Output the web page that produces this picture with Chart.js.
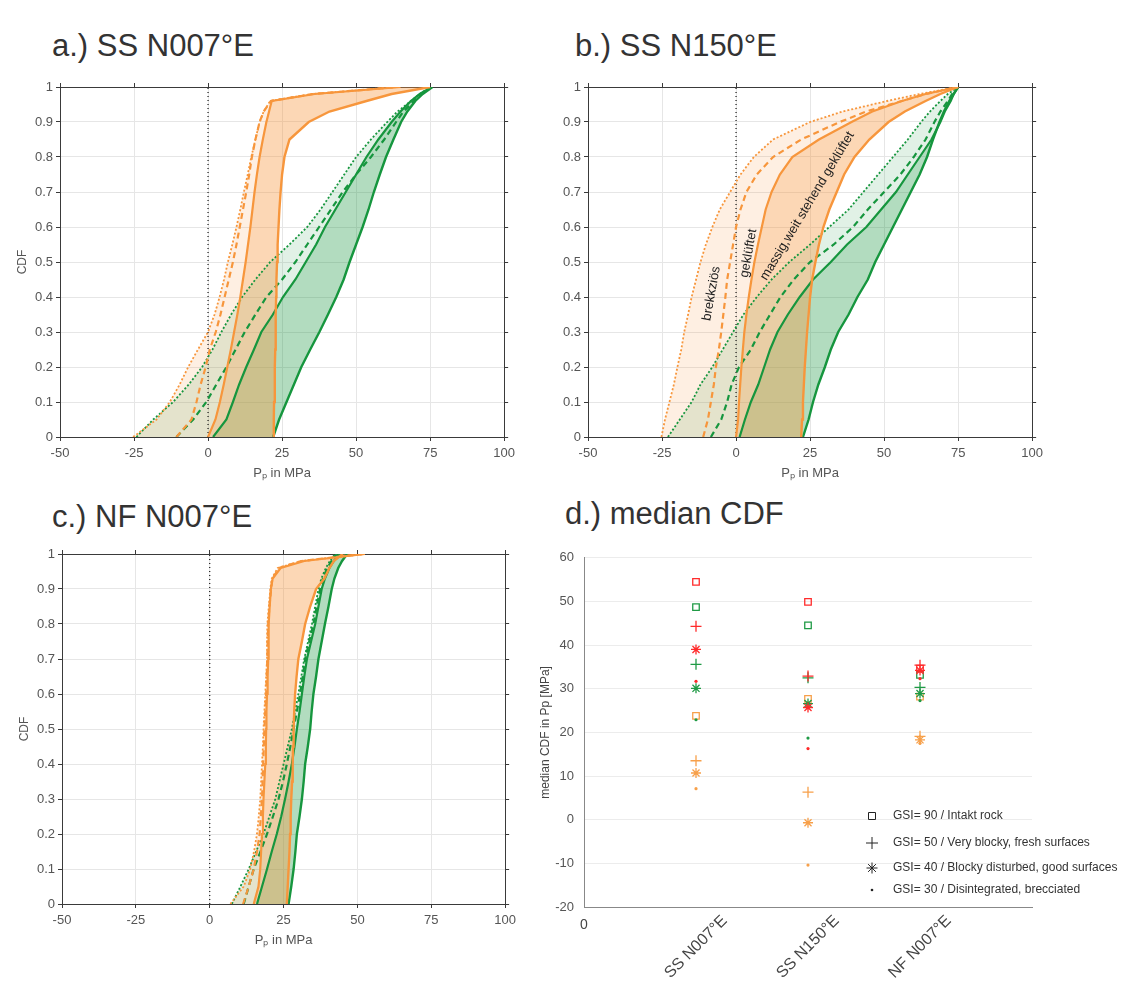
<!DOCTYPE html>
<html lang="en">
<head>
<meta charset="UTF-8" />
<title>CDF Pp - GSI</title>
<script src="https://cdn.jsdelivr.net/npm/chart.js"></script>
<style>
  body { margin: 0; background: #fff; width: 1130px; height: 981px; position: relative; overflow: hidden;
         font-family: "Liberation Sans", Arial, sans-serif; }
  .panel-title { position: absolute; font-size: 31px; line-height: 30px; color: #333; white-space: nowrap; }
  canvas { position: absolute; }
</style>
</head>
<body>
  <div class="panel-title" style="left:52px; top:31px">a.) SS N007°E</div>
  <div class="panel-title" style="left:575px; top:31px">b.) SS N150°E</div>
  <div class="panel-title" style="left:52px; top:502px">c.) NF N007°E</div>
  <div class="panel-title" style="left:565px; top:499px">d.) median CDF</div>

  <canvas id="chartA" width="520" height="420" style="left:0; top:70px"></canvas>
  <canvas id="chartB" width="520" height="420" style="left:528px; top:70px"></canvas>
  <canvas id="chartC" width="519" height="420" style="left:2px; top:537px"></canvas>
  <canvas id="chartD" width="605" height="441" style="left:525px; top:540px"></canvas>

<script>
// probability levels shared by all CDF curves
const cdfLevels = [0, 0.05, 0.1, 0.15, 0.2, 0.25, 0.3, 0.35, 0.4, 0.45, 0.5, 0.55, 0.6, 0.65, 0.7, 0.75, 0.8, 0.85, 0.9, 0.93, 0.96, 0.98, 1];

// a.) SS N007°E  (Pp in MPa at each level)
const a_or30 = [-25.3, -17.4, -12.9, -9.6, -6.7, -3.4, 0, 2.2, 3.9, 5.4, 6.7, 8.2, 9.6, 10.9, 12.1, 13.4, 14.6, 16.0, 17.4, 18.8, 21.0, 35, 64];
const a_or40 = [-10.7, -5.6, -3.9, -2.5, -0.8, 0.6, 2.6, 4.2, 5.6, 7.0, 8.4, 9.6, 10.7, 11.8, 12.9, 13.9, 14.8, 16.0, 17.4, 18.8, 21.2, 35.5, 64];
const a_or50 = [0, 2.5, 4.0, 5.3, 6.5, 7.7, 8.8, 9.9, 10.9, 11.8, 12.7, 13.5, 14.3, 15.0, 15.7, 16.5, 17.4, 18.5, 19.7, 20.6, 21.5, 36, 65];
const a_or90 = [22, 22.2, 22.3, 22.5, 22.6, 22.7, 22.8, 22.9, 23.0, 23.1, 23.3, 23.5, 23.8, 24.1, 24.5, 25.0, 25.8, 27.5, 34, 41, 53.5, 62, 75];
const a_gr30 = [-24.2, -18.5, -11.8, -6.5, -2, 1.5, 4.5, 7.8, 11.5, 16, 21, 27.5, 33.5, 38, 42, 46, 50, 55, 60.5, 64, 68.5, 71.5, 75];
const a_gr40 = [-10.7, -5, -0.6, 2.8, 6.2, 9.3, 12.4, 16, 19.7, 25, 29.5, 33.5, 37.5, 41.5, 45.5, 50, 55, 59.5, 63.5, 66, 69.5, 72, 75];
const a_gr50 = [1.7, 6.2, 8.4, 10.5, 12.9, 15.5, 18, 21.9, 25.3, 29.5, 33, 36.5, 39.5, 43, 46.5, 50, 53.5, 57.5, 62, 65, 68.5, 71.5, 75.5];
const a_gr90 = [22, 24, 26.5, 29, 31.5, 34.5, 37.6, 40.5, 43.3, 45.8, 47.8, 50, 52.2, 54.2, 56, 58, 60.1, 62.6, 65.2, 67.3, 70, 72.5, 75.8];

// b.) SS N150°E
const b_or30 = [-25.2, -24, -22.5, -21, -19.8, -18.5, -17.5, -16.2, -15, -13.5, -12, -10.2, -8, -5.5, -2, 1.5, 6, 12.5, 25, 36, 51, 62, 75];
const b_or40 = [-11.1, -9.5, -8.5, -7.5, -6.8, -5.8, -5, -4.3, -3.6, -3, -2, -1, 0, 1.5, 3.5, 7, 12.5, 22, 35, 44, 56, 64, 75];
const b_or50 = [0, 0.7, 1, 1.4, 1.8, 2.3, 2.8, 3.5, 4.3, 5.2, 6.2, 7.4, 8.7, 10, 12, 14.8, 19, 28, 39, 46, 56, 64, 75];
const b_or90 = [22, 22.3, 22.6, 22.9, 23.2, 23.6, 24, 24.5, 25, 25.7, 26.8, 28, 29.5, 31.5, 34, 36.5, 40, 45, 51.5, 57, 64, 69, 75];
const b_gr30 = [-23, -19, -15, -12, -8, -4.5, -1, 2.5, 7, 12, 18, 25, 31.5, 38, 43, 48, 53, 58, 62.5, 65.5, 69, 71.5, 75];
const b_gr40 = [-8.5, -5, -3, -1.5, 1, 5, 8, 11.5, 15, 19.5, 25, 33, 39.5, 44.5, 50, 55.5, 60, 64, 67, 69, 71.5, 73, 75];
const b_gr50 = [1.2, 3, 5, 7.5, 9.5, 11.5, 14, 17.5, 21.5, 26, 32, 37.5, 44, 49, 54, 58, 62, 66, 69, 70.5, 72.5, 73.5, 75];
const b_gr90 = [22.6, 24.5, 26, 27.8, 30, 32, 34.5, 38, 41, 44.5, 47, 50, 53, 56, 59, 62, 64.5, 66.5, 68.7, 70.2, 72, 73.5, 75];

// c.) NF N007°E
const c_or30 = [7, 11.5, 13.7, 15, 16, 16.6, 17.1, 17.4, 17.7, 18, 18.2, 18.5, 18.8, 19.1, 19.4, 19.4, 19.5, 20, 20.5, 21, 23, 31, 52.5];
const c_or40 = [11.3, 13.2, 14.9, 16, 16.9, 17.3, 17.7, 17.9, 18.1, 18.3, 18.5, 18.8, 19.1, 19.3, 19.5, 19.6, 19.8, 20.2, 20.8, 21.2, 23.5, 31, 52];
const c_or50 = [14.9, 16.5, 17.1, 17.4, 17.7, 18, 18.2, 18.5, 18.8, 19, 19.1, 19.2, 19.4, 19.6, 19.8, 19.9, 20, 20.3, 20.7, 21.3, 24, 32, 52.5];
const c_or90 = [26.1, 26.4, 26.7, 27, 27.2, 27.4, 27.6, 27.9, 28.1, 28.2, 28.4, 28.6, 28.9, 29.4, 30, 31.2, 32.3, 34, 36, 38.8, 40.5, 42, 45];
const c_gr30 = [7.5, 10.4, 13.2, 15.7, 18.2, 20.2, 22.2, 23.6, 25, 26.4, 27.8, 28.9, 30, 31, 32, 33.3, 34.6, 35.7, 36.8, 37.8, 39.3, 40.7, 42.4];
const c_gr40 = [11.5, 13.2, 14.9, 17.2, 19.4, 21.4, 23.3, 24.8, 26.1, 27.3, 28.4, 29.5, 30.6, 31.5, 32.3, 33.7, 35.1, 36.2, 37.4, 38.3, 39.8, 41.2, 43];
const c_gr50 = [16, 17.7, 19.4, 21, 22.7, 24.2, 25.5, 26.7, 27.8, 28.7, 29.5, 30.4, 31.2, 32, 32.9, 34.3, 35.7, 36.8, 37.9, 39, 40.5, 42, 44];
const c_gr90 = [26.7, 27.6, 28.4, 29, 29.5, 30.4, 31.2, 31.8, 32.3, 33.2, 34, 34.5, 35.1, 36, 36.8, 37.9, 39, 40.2, 41.3, 42.2, 43.5, 44.8, 46.5];

// zero reference line
const zeroLineX = [0, 0];
const zeroLineY = [0, 1];

// band labels in b.)
const bandLabels = ['brekkziös', 'geklüftet', 'massig,weit stehend geklüftet'];

// d.) median CDF in Pp [MPa] per site
const sites = ['SS N007°E', 'SS N150°E', 'NF N007°E'];
const red90 = [54.5, 49.9, 34.6];
const red50 = [44.3, 32.9, 35.4];
const red40 = [39.0, 25.7, 34.2];
const red30 = [31.7, 16.3, 32.3];
const green90 = [48.7, 44.5, 33.2];
const green50 = [35.6, 32.5, 30.3];
const green40 = [30.1, 26.6, 28.9];
const green30 = [22.9, 18.7, 27.3];
const orange90 = [23.8, 27.7, 28.2];
const orange50 = [13.5, 6.3, 19.1];
const orange40 = [10.7, -0.7, 18.3];
const orange30 = [7.1, -10.4, 17.5];
const legendLabels = ['GSI= 90 / Intakt rock', 'GSI= 50 / Very blocky, fresh surfaces',
  'GSI= 40 / Blocky disturbed, good surfaces', 'GSI= 30 / Disintegrated, brecciated'];

const FONT = '"Liberation Sans", Arial, sans-serif';
const ORANGE = 'rgb(247,150,60)';
const GREEN = 'rgb(22,150,62)';
const gridColor = '#e6e6e6';
const axisColor = '#3a3a3a';
const tickColor = '#555';

function toPoints(xs) {
  return xs.map((x, i) => ({ x: x, y: cdfLevels[i] }));
}

function curveSet(list, color, light, medium, base) {
  // list = [gsi30, gsi40, gsi50, gsi90]
  const dash = [[2, 2], [6, 4], [], []];
  const width = [1.8, 2.2, 2.2, 2.4];
  return list.map((xs, i) => ({
    data: toPoints(xs),
    borderColor: color,
    borderWidth: width[i],
    borderDash: dash[i],
    backgroundColor: i === 0 ? light : medium,
    fill: i === 0 ? { target: base + 2 } : (i === 2 ? { target: base + 3 } : false),
    pointRadius: 0
  }));
}

// rotated band names for panel b, anchored in data coordinates
const bandNotes = {
  id: 'bandNotes',
  afterDatasetsDraw(chart) {
    if (chart.canvas.id !== 'chartB') return;
    const { ctx, scales } = chart;
    const anchors = [[-8.3, 0.41, -80], [4.2, 0.525, -80], [24.1, 0.66, -59]];
    ctx.save();
    ctx.fillStyle = '#222';
    ctx.font = '13px ' + FONT;
    ctx.textAlign = 'center';
    ctx.textBaseline = 'middle';
    bandLabels.forEach((t, i) => {
      const [vx, vy, ang] = anchors[i];
      ctx.save();
      ctx.translate(scales.x.getPixelForValue(vx), scales.y.getPixelForValue(vy));
      ctx.rotate(ang * Math.PI / 180);
      ctx.fillText(t, 0, 0);
      ctx.restore();
    });
    ctx.restore();
  }
};

function cdfChart(id, orangeList, greenList, showTitle) {
  const datasets = [
    ...curveSet(orangeList, ORANGE, 'rgba(247,150,60,0.15)', 'rgba(247,150,60,0.38)', 0),
    ...curveSet(greenList, GREEN, 'rgba(22,150,62,0.13)', 'rgba(22,150,62,0.33)', 4),
    {
      data: zeroLineX.map((x, i) => ({ x: x, y: zeroLineY[i] })),
      borderColor: '#111', borderWidth: 1.2, borderDash: [1, 3], fill: false, pointRadius: 0
    }
  ];
  const sideAxis = (pos, fitSize) => ({
    type: 'linear', position: pos,
    min: pos === 'top' ? -50 : 0, max: pos === 'top' ? 100 : 1,
    ticks: { display: false, stepSize: pos === 'top' ? 25 : 0.1 },
    grid: { drawOnChartArea: false, tickLength: 4, color: axisColor },
    border: { color: axisColor },
    afterFit: s => { if (pos === 'top') s.height = fitSize; else s.width = fitSize; }
  });
  return new Chart(document.getElementById(id), {
    type: 'line',
    data: { datasets },
    options: {
      indexAxis: 'y',
      responsive: false,
      animation: false,
      layout: { padding: 0 },
      elements: { line: { tension: 0 } },
      plugins: {
        legend: { display: false },
        tooltip: { enabled: false },
        filler: { drawTime: 'beforeDatasetsDraw' }
      },
      scales: {
        x: {
          type: 'linear', position: 'bottom', min: -50, max: 100,
          ticks: { stepSize: 25, color: tickColor, padding: 5, font: { family: FONT, size: 13 } },
          grid: { color: gridColor, tickLength: 4, tickColor: axisColor },
          border: { color: axisColor },
          title: { display: true, text: 'Pₚ in MPa', color: tickColor, font: { family: FONT, size: 13 }, padding: { top: 0, bottom: 9 } },
          afterFit: s => { s.height = 53; }
        },
        y: {
          type: 'linear', position: 'left', min: 0, max: 1,
          ticks: {
            stepSize: 0.1, color: tickColor, padding: 3, font: { family: FONT, size: 13 },
            callback: v => String(Number(v.toFixed(1)))
          },
          grid: { color: gridColor, tickLength: 4, tickColor: axisColor },
          border: { color: axisColor },
          title: { display: showTitle, text: 'CDF', color: tickColor, font: { family: FONT, size: 12 }, padding: { top: 15, bottom: 0 } },
          afterFit: s => { s.width = 60; }
        },
        x2: sideAxis('top', 17),
        y2: sideAxis('right', 15)
      }
    },
    plugins: [bandNotes]
  });
}

cdfChart('chartA', [a_or30, a_or40, a_or50, a_or90], [a_gr30, a_gr40, a_gr50, a_gr90], true);
cdfChart('chartB', [b_or30, b_or40, b_or50, b_or90], [b_gr30, b_gr40, b_gr50, b_gr90], false);
cdfChart('chartC', [c_or30, c_or40, c_or50, c_or90], [c_gr30, c_gr40, c_gr50, c_gr90], true);

// ---- panel d ----
const RED_D = '#ff2b2b';
const GREEN_D = '#1f9a45';
const ORANGE_D = '#f7a04a';
const markers = [
  { style: 'rect', radius: 4.6, filled: false },
  { style: 'cross', radius: 5.5, filled: false },
  { style: 'star', radius: 5, filled: false },
  { style: 'circle', radius: 1.6, filled: true }
];

function medianSets(color, list) {
  return list.map((vals, i) => ({
    data: vals.map((v, k) => ({ x: k + 1, y: v })),
    pointStyle: markers[i].style,
    pointRadius: markers[i].radius,
    borderColor: color,
    backgroundColor: markers[i].filled ? color : 'transparent',
    pointBorderWidth: markers[i].filled ? 0 : 1.3,
    showLine: false
  }));
}

function drawMarker(ctx, kind, x, y) {
  ctx.beginPath();
  if (kind === 0) {
    ctx.rect(x - 3.5, y - 3.5, 7, 7);
    ctx.stroke();
  } else if (kind === 1 || kind === 2) {
    const r = kind === 1 ? 6 : 5.5;
    ctx.moveTo(x - r, y); ctx.lineTo(x + r, y);
    ctx.moveTo(x, y - r); ctx.lineTo(x, y + r);
    if (kind === 2) {
      const d = r * 0.707;
      ctx.moveTo(x - d, y - d); ctx.lineTo(x + d, y + d);
      ctx.moveTo(x - d, y + d); ctx.lineTo(x + d, y - d);
    }
    ctx.stroke();
  } else {
    ctx.arc(x, y, 1.3, 0, Math.PI * 2);
    ctx.fill();
  }
}

const medianDecor = {
  id: 'medianDecor',
  afterDraw(chart) {
    const { ctx, chartArea, scales } = chart;
    const xs = scales.x;
    ctx.save();
    ctx.fillStyle = '#444';
    ctx.textAlign = 'center';
    ctx.textBaseline = 'middle';
    ctx.font = '14px ' + FONT;
    ctx.fillText('0', xs.getPixelForValue(0), chartArea.bottom + 18);
    ctx.font = '16px ' + FONT;
    sites.forEach((name, i) => {
      ctx.save();
      ctx.translate(xs.getPixelForValue(i + 1), chartArea.bottom + 40);
      ctx.rotate(-Math.PI / 4);
      ctx.fillText(name, 0, 0);
      ctx.restore();
    });
    // legend
    const mx = chartArea.right - 160;
    const tx = chartArea.right - 139;
    const rows = [91, 64, 39, 17];
    ctx.strokeStyle = '#222';
    ctx.fillStyle = '#222';
    ctx.lineWidth = 1;
    ctx.textAlign = 'left';
    ctx.font = '12px ' + FONT;
    legendLabels.forEach((label, i) => {
      const y = chartArea.bottom - rows[i];
      drawMarker(ctx, i, mx, y);
      ctx.fillStyle = '#333';
      ctx.fillText(label, tx, y);
      ctx.fillStyle = '#222';
    });
    ctx.restore();
  }
};

new Chart(document.getElementById('chartD'), {
  type: 'scatter',
  data: {
    datasets: [
      ...medianSets(RED_D, [red90, red50, red40, red30]),
      ...medianSets(GREEN_D, [green90, green50, green40, green30]),
      ...medianSets(ORANGE_D, [orange90, orange50, orange40, orange30])
    ]
  },
  options: {
    responsive: false,
    animation: false,
    layout: { padding: { top: 15, right: 98, left: 0, bottom: 0 } },
    plugins: { legend: { display: false }, tooltip: { enabled: false } },
    scales: {
      x: {
        type: 'linear', min: 0, max: 4,
        ticks: { display: false, stepSize: 1 },
        grid: { display: false },
        border: { color: '#888' },
        afterFit: s => { s.height = 74; }
      },
      y: {
        type: 'linear', min: -20, max: 60,
        ticks: { stepSize: 10, color: '#555', padding: 10, font: { family: FONT, size: 13 } },
        grid: { color: '#ececec', drawTicks: false },
        border: { color: '#888' },
        title: { display: true, text: 'median CDF in Pp [MPa]', color: '#444', font: { family: FONT, size: 12 }, padding: { top: 13, bottom: 0 } },
        afterFit: s => { s.width = 59; }
      }
    }
  },
  plugins: [medianDecor]
});
</script>
</body>
</html>
